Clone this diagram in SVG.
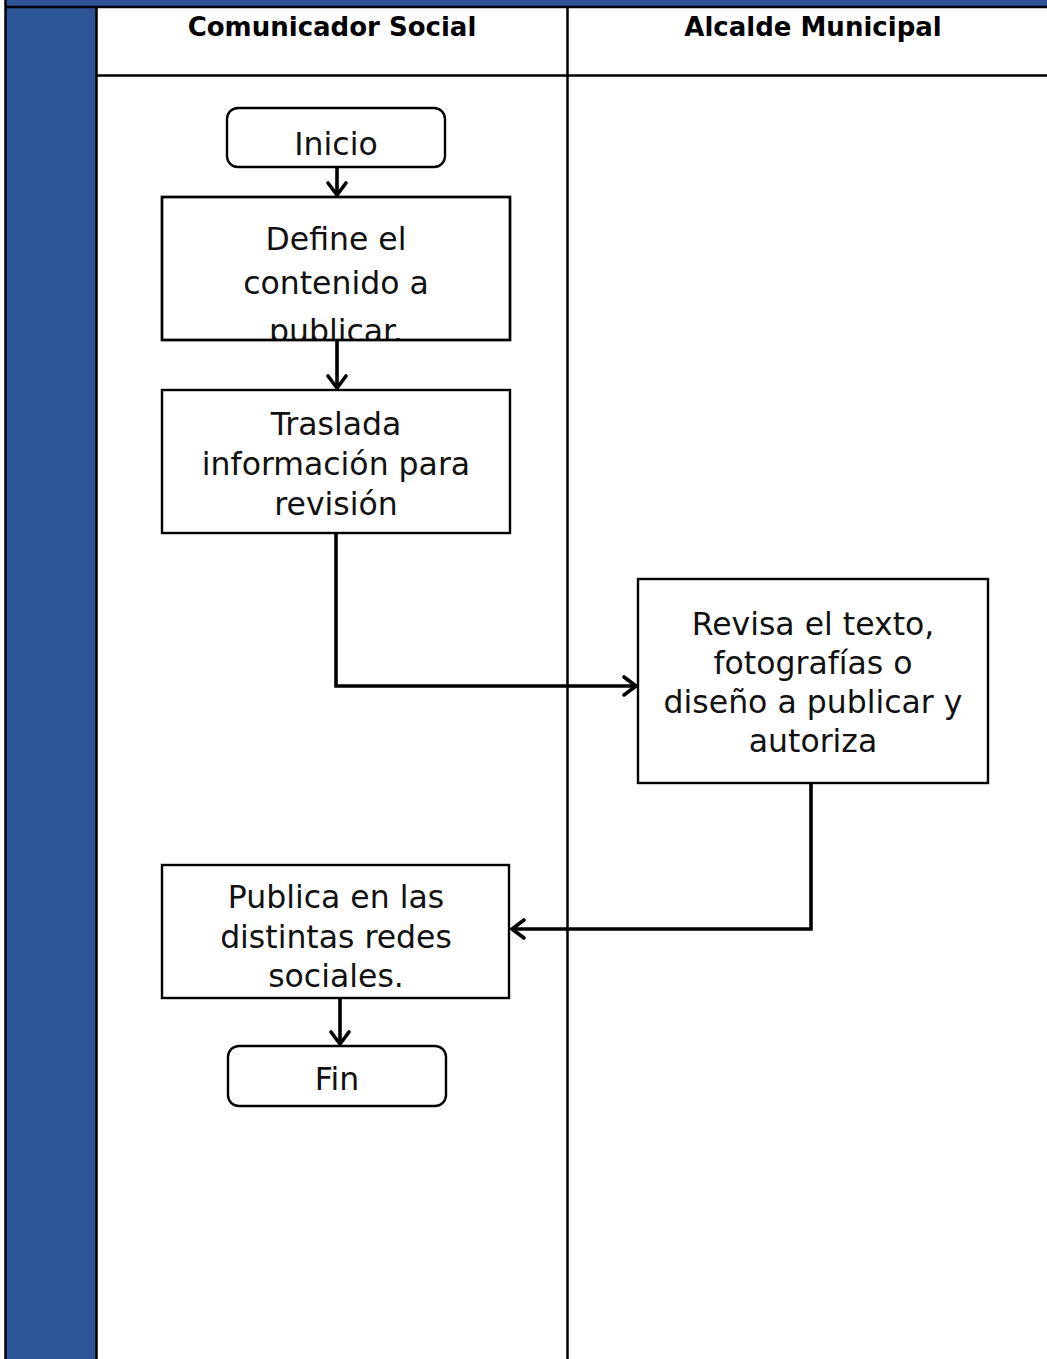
<svg xmlns="http://www.w3.org/2000/svg" width="1047" height="1359" viewBox="0 0 1047 1359">
  <defs>
    <style>
      .lane { stroke: #000; stroke-width: 2.5; fill: none; }
      .box { fill: #fff; stroke: #000; stroke-width: 2.4; }
      .conn { fill: none; stroke: #000; stroke-width: 3.6; }
      .t { font-family: "DejaVu Sans", "Liberation Sans", sans-serif; font-size: 31.5px; fill: #111; text-anchor: middle; }
      .h { font-family: "DejaVu Sans", "Liberation Sans", sans-serif; font-weight: bold; font-size: 26px; fill: #000; text-anchor: middle; }
    </style>
    <marker id="arr" markerUnits="userSpaceOnUse" markerWidth="18" markerHeight="26" refX="15" refY="13" orient="auto">
      <path d="M3,4 L15,13 L3,22" fill="none" stroke="#000" stroke-width="3.6" stroke-linecap="round" stroke-linejoin="miter"/>
    </marker>
    <clipPath id="clipDefine"><rect x="162" y="197" width="348" height="143"/></clipPath>
  </defs>

  <rect x="0" y="0" width="1047" height="1359" fill="#fff"/>

  <g id="swimlanes">
    <rect x="5" y="0" width="1042" height="7" fill="#2E5597"/>
    <rect x="5" y="7" width="92" height="1352" fill="#2E5597"/>
    <line class="lane" x1="5" y1="7" x2="1047" y2="7"/>
    <line class="lane" x1="5.5" y1="0" x2="5.5" y2="1359"/>
    <line class="lane" x1="96.5" y1="7" x2="96.5" y2="1359"/>
    <line class="lane" x1="567.5" y1="7" x2="567.5" y2="1359"/>
    <line class="lane" x1="97" y1="75.5" x2="1047" y2="75.5"/>
    <text class="h" x="332" y="36">Comunicador Social</text>
    <text class="h" x="813" y="36">Alcalde Municipal</text>
  </g>

  <g id="connectors">
    <line class="conn" x1="337" y1="167" x2="337" y2="195" marker-end="url(#arr)"/>
    <line class="conn" x1="337" y1="340" x2="337" y2="388" marker-end="url(#arr)"/>
    <polyline class="conn" points="336,533 336,686 636,686" marker-end="url(#arr)"/>
    <polyline class="conn" points="811,783 811,929 512,929" marker-end="url(#arr)"/>
    <line class="conn" x1="340" y1="998" x2="340" y2="1044" marker-end="url(#arr)"/>
  </g>

  <g id="inicio">
    <rect class="box" x="227" y="108" width="218" height="59" rx="11"/>
    <text class="t" x="336" y="155">Inicio</text>
  </g>

  <g id="define">
    <rect class="box" x="162" y="197" width="348" height="143"/>
    <g clip-path="url(#clipDefine)">
      <text class="t" x="336" y="250">Define el</text>
      <text class="t" x="336" y="294">contenido a</text>
      <text class="t" x="336" y="342">publicar.</text>
    </g>
    <rect x="162" y="197" width="348" height="143" fill="none" stroke="#000" stroke-width="2.4"/>
  </g>

  <g id="traslada">
    <rect class="box" x="162" y="390" width="348" height="143"/>
    <text class="t" x="336" y="435">Traslada</text>
    <text class="t" x="336" y="475">información para</text>
    <text class="t" x="336" y="515">revisión</text>
  </g>

  <g id="revisa">
    <rect class="box" x="638" y="579" width="350" height="204"/>
    <text class="t" x="813" y="635">Revisa el texto,</text>
    <text class="t" x="813" y="674">fotografías o</text>
    <text class="t" x="813" y="713">diseño a publicar y</text>
    <text class="t" x="813" y="752">autoriza</text>
  </g>

  <g id="publica">
    <rect class="box" x="162" y="865" width="347" height="133"/>
    <text class="t" x="336" y="908">Publica en las</text>
    <text class="t" x="336" y="948">distintas redes</text>
    <text class="t" x="336" y="987">sociales.</text>
  </g>

  <g id="fin">
    <rect class="box" x="228" y="1046" width="218" height="60" rx="11"/>
    <text class="t" x="337" y="1090">Fin</text>
  </g>
</svg>
